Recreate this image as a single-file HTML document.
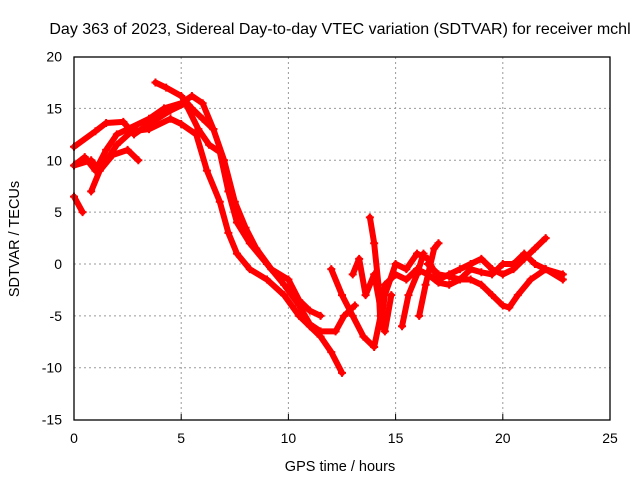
<!DOCTYPE html>
<html><head><meta charset="utf-8"><style>
body{margin:0;background:#fff}
svg{display:block;font-family:"Liberation Sans",sans-serif}
</style></head><body>
<svg id="c" width="640" height="480">
<text x="340" y="34" font-size="16" text-anchor="middle">Day 363 of 2023, Sidereal Day-to-day VTEC variation (SDTVAR) for receiver mchl</text>
<text x="340" y="471" font-size="14.5" text-anchor="middle">GPS time / hours</text>
<text transform="translate(19,239) rotate(-90)" font-size="14.5" text-anchor="middle">SDTVAR / TECUs</text>
<g id="grid"></g><g id="marks"></g>
<rect x="74" y="57" width="536" height="363" fill="none" stroke="#000" stroke-width="1.3"/>
</svg>
<script>
const xTicks=[0,5,10,15,20,25];
const yTicks=[-15,-10,-5,0,5,10,15,20];
const s1=[[0,11.3],[1,12.8],[1.5,13.6],[2.3,13.7],[2.8,12.5],[3.5,13.5],[4.5,14.8],[5.2,15.5],[5.8,13],[6.3,11.5],[6.8,10.8],[7.2,7],[7.6,4],[8.2,2],[9,0],[9.8,-2],[10.5,-4],[11,-5.8],[11.5,-6.5],[12.2,-6.5],[12.6,-5],[13.1,-4]];
const s2=[[0,9.5],[0.8,10],[1.2,9],[2,11.5],[2.7,12.8],[3.5,13],[4.5,14],[5,13.5],[5.7,12.5],[6.2,9],[6.8,6],[7.2,3],[7.6,1],[8.2,-0.5],[9,-1.5],[9.8,-3],[10.5,-5],[11,-6],[11.5,-7],[12,-8.5],[12.5,-10.5]];
const s3=[[0,9.5],[0.5,10.3],[1,9],[1.5,11],[2,12.5],[2.5,13],[3.5,14],[4.2,15],[5,15.5],[5.5,16.2],[6,15.5],[6.5,13]];
const s4=[[3.8,17.5],[4.3,17],[5,16.2],[5.5,15],[6,14],[6.5,13],[7,10],[7.5,6],[8,3.5],[8.5,1.5],[9.2,-0.5],[10,-1.5],[10.5,-3.5],[11,-4.5],[11.5,-5]];
const s5=[[0,6.5],[0.4,5]];
const s6=[[0.8,7],[1.2,9],[1.8,10.5],[2.5,11],[3,10]];
const s7=[[12,-0.5],[12.5,-3],[13,-5],[13.5,-7],[14,-8],[14.3,-5],[14.5,-2],[15,-1],[15.5,-1.5],[16,-0.5],[16.5,-1],[17,-1.8],[17.5,-2],[18,-1.5],[18.5,-0.5],[19,-0.8],[19.5,-1],[20,0],[20.5,0],[21,1],[21.5,0],[22,-0.5],[22.8,-1.5]];
const s8=[[13.8,4.5],[14,2],[14.2,-2],[14.3,-6],[14.5,-3],[15,0],[15.5,-0.5],[16,1],[16.5,0.5],[17,-1.5],[17.5,-1],[18,-0.5],[18.5,0],[19,0.5],[19.5,-0.5],[20,-1],[20.5,-0.5],[21,0.5],[21.5,1.5],[22,2.5]];
const s9=[[16.5,0],[17,-1],[17.5,-1.2],[18,-1.5],[18.5,-1.5],[19,-2],[19.5,-3],[20,-4],[20.3,-4.2],[20.7,-3],[21.3,-1.5],[22,-0.5],[22.8,-1]];
const s10=[[15.3,-6],[15.6,-3],[16,-1],[16.3,1]];
const s11=[[16.1,-5],[16.4,-2],[16.8,1.5],[17,2]];
const s12=[[13,-1],[13.3,0.5],[13.6,-3],[14,-1],[14.5,-6.5],[14.8,-3]];
const series=[s1,s2,s3,s4,s5,s6,s7,s8,s9,s10,s11,s12];
const X=h=>74+h*536/25, Y=v=>264-v*363/35;
const NS='http://www.w3.org/2000/svg';
const grid=document.getElementById('grid'), marks=document.getElementById('marks');
function mk(t,a,p){const e=document.createElementNS(NS,t);for(const k in a)e.setAttribute(k,a[k]);p.appendChild(e);return e;}
xTicks.forEach(t=>{
 if(t>0&&t<25){const l=mk('line',{x1:X(t),x2:X(t),y1:57,y2:420,stroke:'#999','stroke-dasharray':'2,3'},grid);
 
 }
 const tk=mk('line',{x1:X(t),x2:X(t),y1:420,y2:414,stroke:'#000'},grid);
 
 
 const tx=mk('text',{x:X(t),y:443,'font-size':14,'text-anchor':'middle'},grid);tx.textContent=t;
 
 
});
yTicks.forEach(t=>{
 if(t>-15&&t<20){const l=mk('line',{x1:74,x2:610,y1:Y(t),y2:Y(t),stroke:'#999','stroke-dasharray':'2,3'},grid);
 
 }
 const tx=mk('text',{x:62,y:Y(t)+5,'font-size':14,'text-anchor':'end'},grid);tx.textContent=t;
 
 
});
series.forEach((s,i)=>{
 const pl=mk('polyline',{points:s.map(p=>X(p[0])+','+Y(p[1])).join(' '),fill:'none',stroke:'#f00','stroke-width':6,'stroke-linejoin':'round','stroke-linecap':'round'},marks);
 
 
 s.forEach(p=>{const x=X(p[0]),y=Y(p[1]);
  const m=mk('path',{d:`M${x-4},${y}h8M${x},${y-4}v8`,stroke:'#f00','stroke-width':2},marks);
  
  });
});
</script>
</body></html>
